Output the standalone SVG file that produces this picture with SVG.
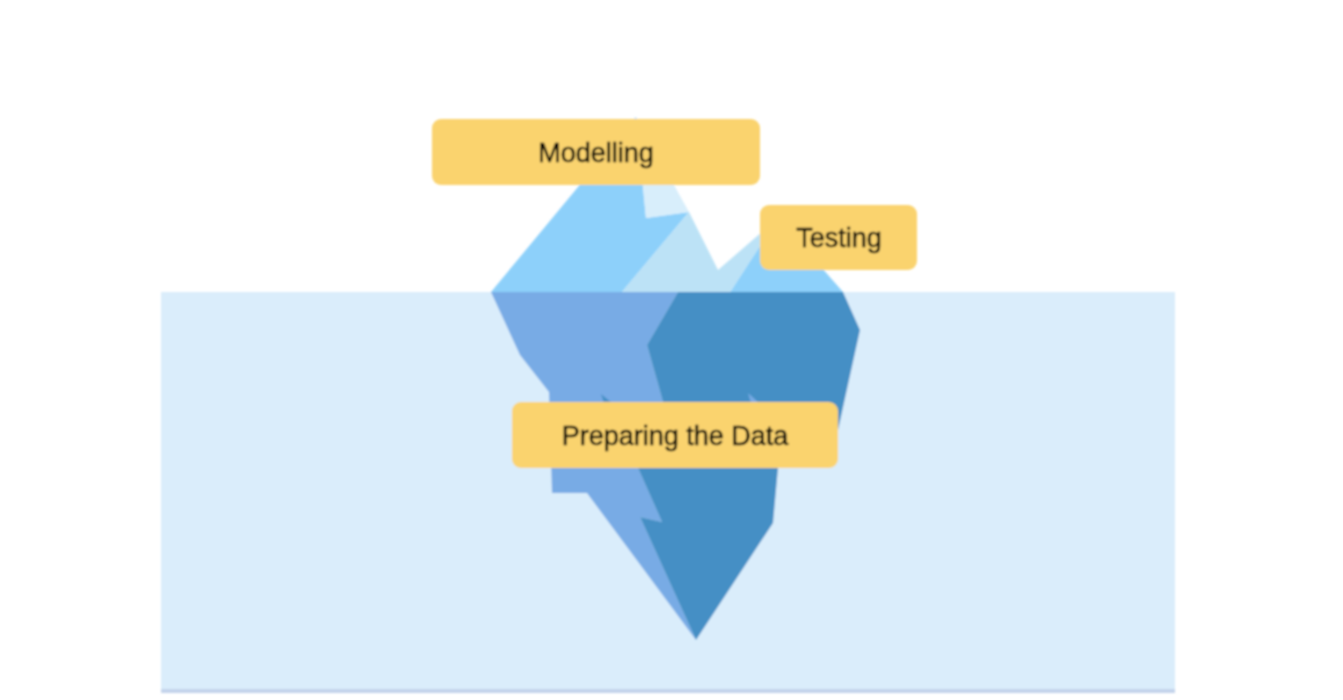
<svg xmlns="http://www.w3.org/2000/svg" width="1343" height="700" viewBox="0 0 1343 700">
<style>
.label{fill:#fad36e}
.txt{font-family:"Liberation Sans",Arial,sans-serif;font-size:27px;fill:#000;stroke:#000;stroke-width:.5;text-anchor:middle}
</style>
<defs><filter id="soft" filterUnits="userSpaceOnUse" x="0" y="0" width="1343" height="700"><feGaussianBlur stdDeviation="0.8"/></filter></defs>
<rect width="1343" height="700" fill="#fff"/>
<g filter="url(#soft)">
<g id="water">
<rect x="161" y="292" width="1014" height="397" fill="#daedfb"/>
<rect x="161" y="689" width="1014" height="4" fill="#c3d3eb"/>
</g>
<g id="iceberg">
<polygon fill="#8dd0fa" points="491,292 636,117 646,218 689,212 622,292"/>
<polygon fill="#8dd0fa" points="730,292 778,218 843,292"/>
<polygon fill="#bce2f6" points="622,292 689,212 718,270 778,218 730,292"/>
<polygon fill="#d8eefb" points="636,117 689,212 646,218 643,185"/>
<polygon fill="#78abe5" points="491,292 678,292 647,345 663,402 638,468 662,522 640,517 696,640 587,493 552,493 549,392 520,355"/>
<polygon fill="#448fc5" points="678,292 843,292 860,330 838,430 778,468 773,523 696,640 640,517 662,522 638,468 663,402 647,345"/>
<polygon fill="#448fc5" points="601,394 612,403 604,403"/>
<polygon fill="#78abe5" points="748,393 759,403 751,403"/>
</g>
<g id="modelling"><rect class="label" x="432" y="119" width="328" height="66" rx="9"/><text class="txt" x="596" y="162">Modelling</text></g>
<g id="testing"><rect class="label" x="760" y="205" width="157" height="65" rx="9"/><text class="txt" x="839" y="247">Testing</text></g>
<g id="preparing"><rect class="label" x="512" y="402" width="326" height="66" rx="9"/><text class="txt" x="675" y="445">Preparing the Data</text></g>
</g>
<g id="connectors"/>
</svg>
